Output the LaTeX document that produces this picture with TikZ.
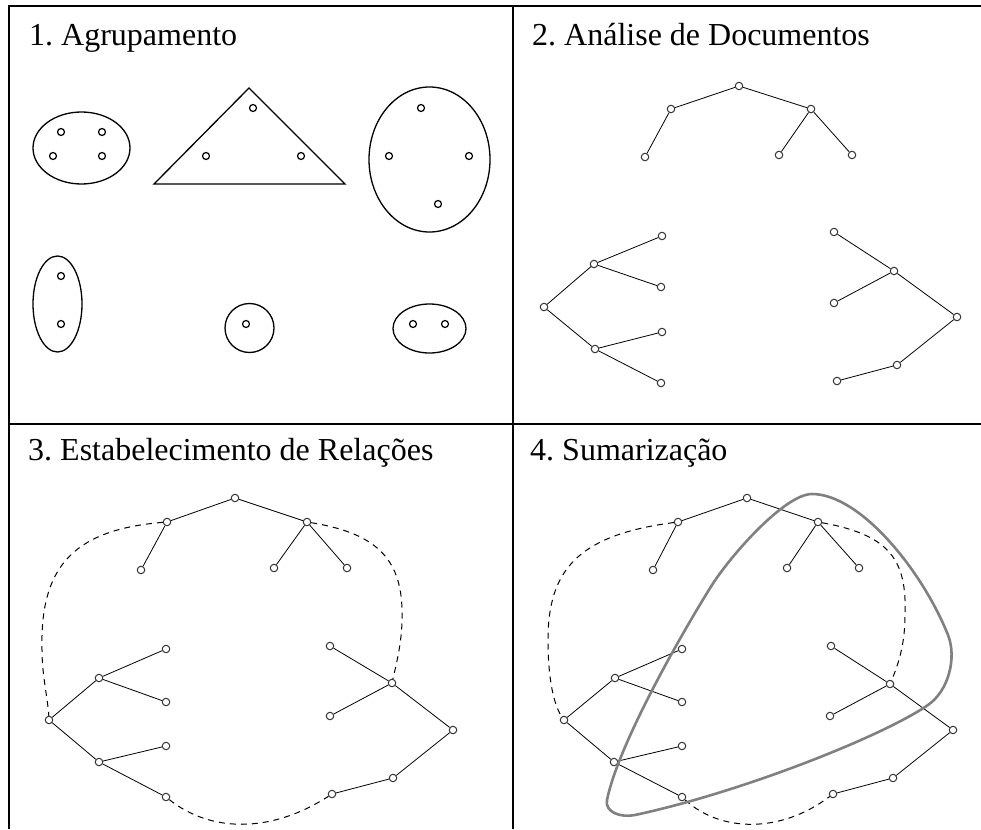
\documentclass[tikz,border=0pt]{standalone}
\usepackage{fontspec}
\setmainfont{Liberation Serif}
\begin{document}
\frenchspacing
\begin{tikzpicture}[x=1pt,y=-1pt,
  dot/.style={circle,draw=black!80,line width=1pt,inner sep=0pt,minimum size=7.5pt},
  pdot/.style={circle,draw=black,line width=1.2pt,inner sep=0pt,minimum size=7pt},
  edge/.style={draw=black,line width=0.8pt},
  frame/.style={line width=1.6pt},
  shp/.style={line width=1.3pt},
  rel/.style={dash pattern=on 6pt off 5pt, line width=1pt},
  summ/.style={draw=black!50, line width=2.6pt},
  title/.style={anchor=base west,inner sep=0pt,font=\fontsize{32}{38}\selectfont}]
\useasboundingbox (0,0) rectangle (981,829);
% frame
\draw[frame] (9,829) -- (9,6) -- (981,6);
\draw[frame] (513,6) -- (513,829);
\draw[frame] (9,424) -- (981,424);
% titles
\node[title] (h1) at (29,46) {1. Agrupamento};
\node[title] (h2) at (532,46) {2. Análise de Documentos};
\node[title] (h3) at (28,460) {3. Estabelecimento de Relações};
\node[title] (h4) at (530,460) {4. Sumarização};
% panel 1
\draw[shp] (81.5,148) ellipse [x radius=48.5pt, y radius=36pt];
\draw[shp,line join=miter] (249,88) -- (345,184) -- (154,184) -- cycle;
\draw[shp] (429.5,159.5) ellipse [x radius=60.5pt, y radius=72.5pt];
\draw[shp] (57.5,304) ellipse [x radius=24.5pt, y radius=48pt];
\draw[shp] (249.5,328) circle [radius=24.5pt];
\draw[shp] (429.5,328.5) ellipse [x radius=36.5pt, y radius=24.5pt];
\foreach \n/\x/\y in {a1/61/132,a2/102/132,a3/53/156,a4/102/156,
  b1/253/108,b2/206/156,b3/301/156,
  c1/421/108,c2/389/156,c3/469/156,c4/438/204,
  d1/61/276,d2/61/324, e1/246/324, f1/413/324,f2/445/324}
  \node[pdot] (\n) at (\x,\y) {};
% panel 2 nodes
\foreach \n/\x/\y in {tr/739/86,ta/671/109,tb/811/109,ta1/645/157,tb1/779/155,tb2/852/155,
  lr/544/307,lp/594/264,lq/595/349,lpa/662/236,lpb/661/287,lqa/662/332,lqb/661/383,
  rr/957/317,rp/894/271,rq/897/365,rpa/834/232,rpb/834/303,rqa/837/381}
  \node[dot] (p2\n) at (\x,\y) {};
% panel 3 nodes
\foreach \n/\x/\y in {tr/235/498,ta/167/522,tb/307/522,ta1/141/570,tb1/274/568,tb2/347/568,
  lr/49/720,lp/99/678,lq/99/762,lpa/166/649,lpb/166/702,lqa/166/746,lqb/166/797,
  rr/453/730,rp/392/683,rq/393/778,rpa/330/646,rpb/330/716,rqa/332/794}
  \node[dot] (p3\n) at (\x,\y) {};
% panel 4 nodes
\foreach \n/\x/\y in {tr/747/498,ta/678/522,tb/818/522,ta1/653/570,tb1/787/568,tb2/859/568,
  lr/564/720,lp/615/678,lq/614/762,lpa/682/649,lpb/682/702,lqa/682/746,lqb/682/797,
  rr/953/730,rp/890/684,rq/893/778,rpa/831/646,rpb/830/716,rqa/833/794}
  \node[dot] (p4\n) at (\x,\y) {};
% edges
\foreach \p in {2,3,4}{
  \foreach \a/\b in {tr/ta,tr/tb,ta/ta1,tb/tb1,tb/tb2,
    lr/lp,lr/lq,lp/lpa,lp/lpb,lq/lqa,lq/lqb,
    rr/rp,rr/rq,rp/rpa,rp/rpb,rq/rqa}
    \draw[edge] (p\p\a) -- (p\p\b);
}
% relations panel 3
\draw[rel] (p3ta) .. controls (70,530) and (40,570) .. (42,650) .. controls (42,675) and (48,700) .. (p3lr);
\draw[rel] (p3tb) .. controls (375,533) and (401,558) .. (402,610) .. controls (403,640) and (396,665) .. (p3rp);
\draw[rel] (p3lqb) .. controls (210,832) and (270,834) .. (p3rqa);
% relations panel 4
\draw[rel] (p4ta) .. controls (578,535) and (548,570) .. (548,640) .. controls (548,680) and (554,705) .. (p4lr);
\draw[rel] (p4tb) .. controls (890,535) and (907,560) .. (905,615) .. controls (905,645) and (898,665) .. (p4rp);
\draw[rel] (p4lqb) .. controls (720,832) and (780,834) .. (p4rqa);
% summarization
\draw[summ] (812,494) .. controls (785,494) and (731,555) .. (712,585)
  .. controls (688,623) and (619,741) .. (607,800)
  .. controls (604.5,811.7) and (620,818) .. (635,815)
  .. controls (742.6,791.9) and (883,736) .. (928,705)
  .. controls (948.5,690.8) and (957,658) .. (948,635)
  .. controls (922,570) and (860,494) .. (812,494) -- cycle;
\end{tikzpicture}
\end{document}
